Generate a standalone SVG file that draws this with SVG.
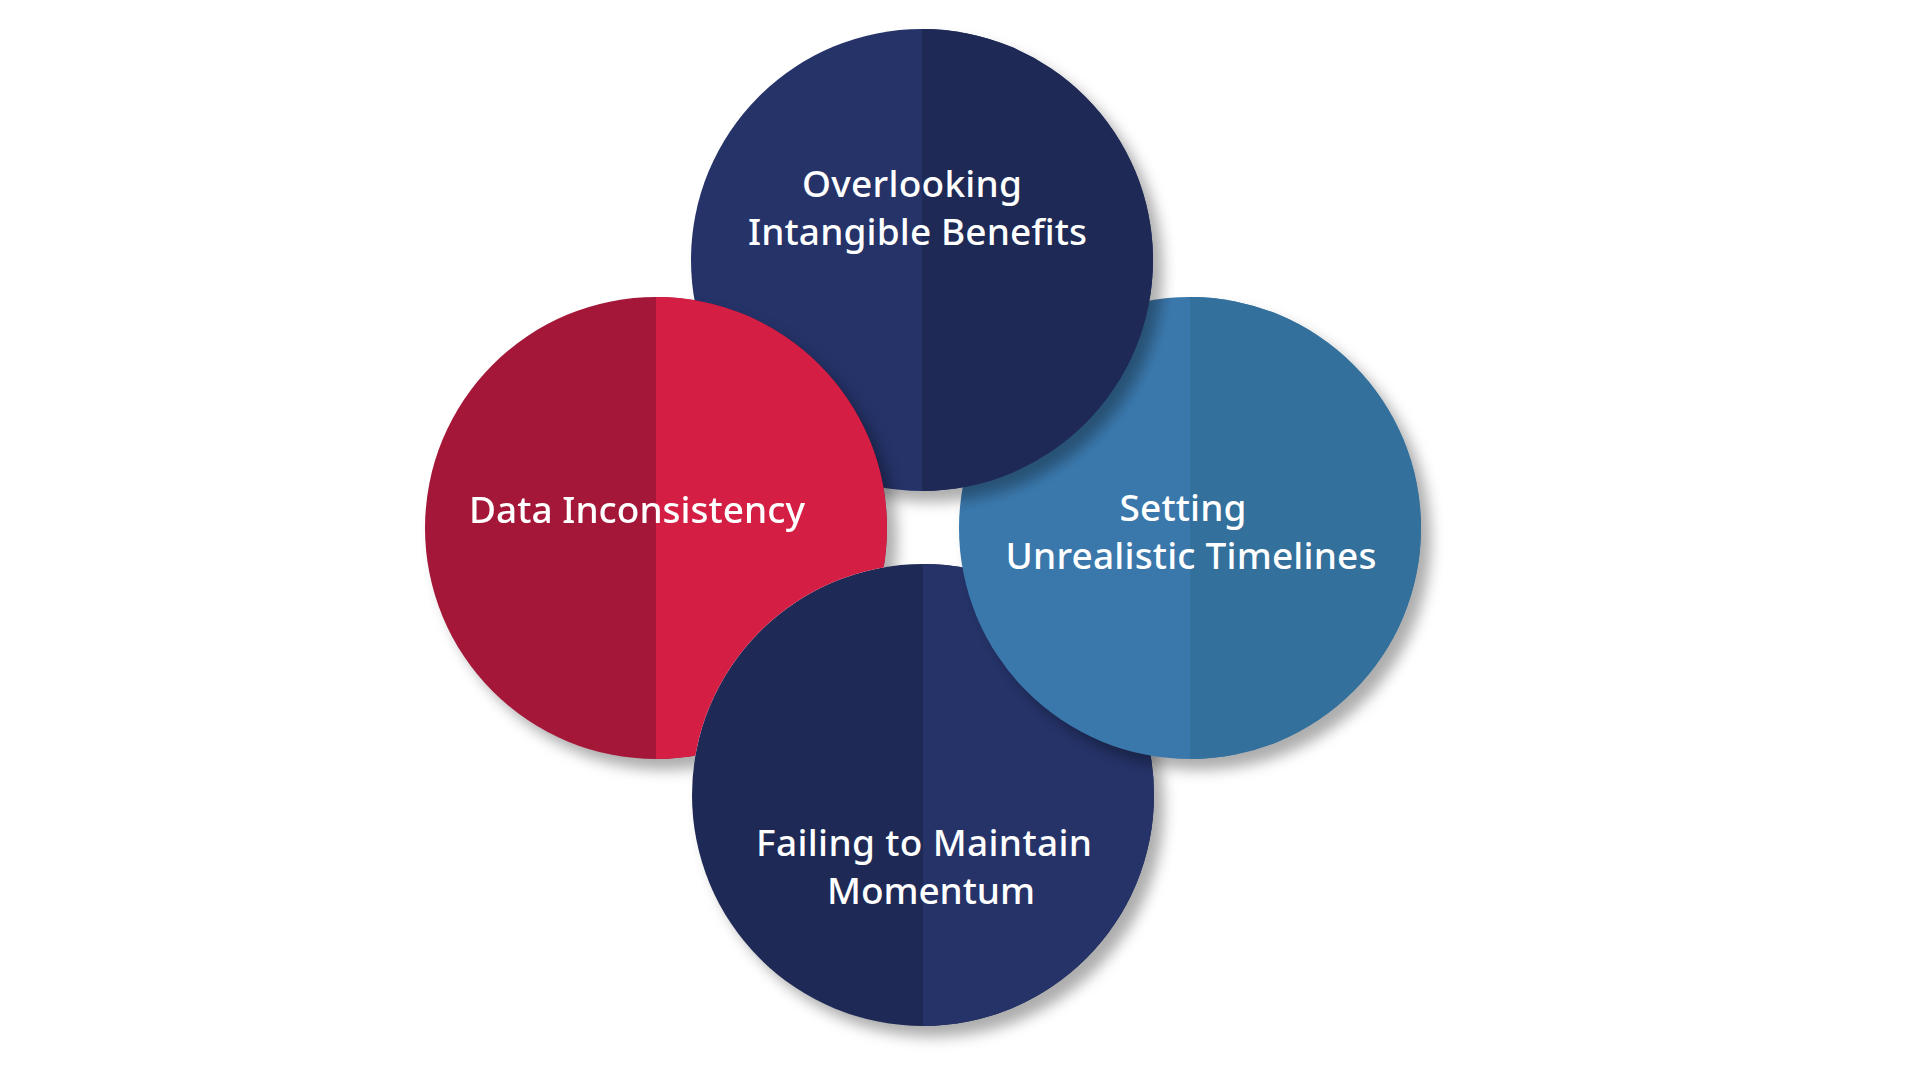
<svg xmlns="http://www.w3.org/2000/svg" width="1920" height="1080" viewBox="0 0 1920 1080">
<defs>
<style>
.lbl{font-family:"Noto Sans","Open Sans","DejaVu Sans",sans-serif;font-size:37px;font-weight:500;fill:#ffffff;text-anchor:middle}
.shadow{fill:#000000;fill-opacity:0.32;filter:url(#blur)}
</style>
<filter id="blur" x="-20%" y="-20%" width="140%" height="140%">
<feGaussianBlur stdDeviation="7"/>
</filter>
<mask id="redMask" maskUnits="userSpaceOnUse" x="0" y="0" width="1920" height="1080">
<rect x="0" y="0" width="1920" height="1080" fill="#ffffff"/>
<circle cx="923" cy="795" r="231" fill="#000000"/>
</mask>
</defs>
<rect x="0" y="0" width="1920" height="1080" fill="#ffffff"/>
<g id="connectors"/>
<g id="node-failing-momentum">
<circle class="shadow" cx="933" cy="806" r="231"/>
<circle cx="923" cy="795" r="231" fill="#1e2a55"/>
<path d="M923,564 A231,231 0 0 1 923,1026 Z" fill="#253369"/>
<text class="lbl" x="924" y="856" textLength="336" lengthAdjust="spacing">Failing to Maintain</text>
<text class="lbl" x="931" y="904" textLength="208" lengthAdjust="spacing">Momentum</text>
</g>
<g id="node-unrealistic-timelines">
<circle class="shadow" cx="1200" cy="539" r="231"/>
<circle cx="1190" cy="528" r="231" fill="#3a78ac"/>
<path d="M1190,297 A231,231 0 0 1 1190,759 Z" fill="#33709b"/>
<text class="lbl" x="1183" y="521" textLength="127" lengthAdjust="spacing">Setting</text>
<text class="lbl" x="1191" y="569" textLength="371" lengthAdjust="spacing">Unrealistic Timelines</text>
</g>
<g id="node-intangible-benefits">
<circle class="shadow" cx="932" cy="271" r="231"/>
<circle cx="922" cy="260" r="231" fill="#253369"/>
<path d="M922,29 A231,231 0 0 1 922,491 Z" fill="#1e2a55"/>
<text class="lbl" x="912" y="197" textLength="220" lengthAdjust="spacing">Overlooking</text>
<text class="lbl" x="917.5" y="245" textLength="339" lengthAdjust="spacing">Intangible Benefits</text>
</g>
<g id="node-data-inconsistency" mask="url(#redMask)">
<circle class="shadow" cx="666" cy="539" r="231"/>
<circle cx="656" cy="528" r="231" fill="#a41738"/>
<path d="M656,297 A231,231 0 0 1 656,759 Z" fill="#d41e44"/>
<text class="lbl" x="637" y="523" textLength="336" lengthAdjust="spacing">Data Inconsistency</text>
</g>
</svg>
